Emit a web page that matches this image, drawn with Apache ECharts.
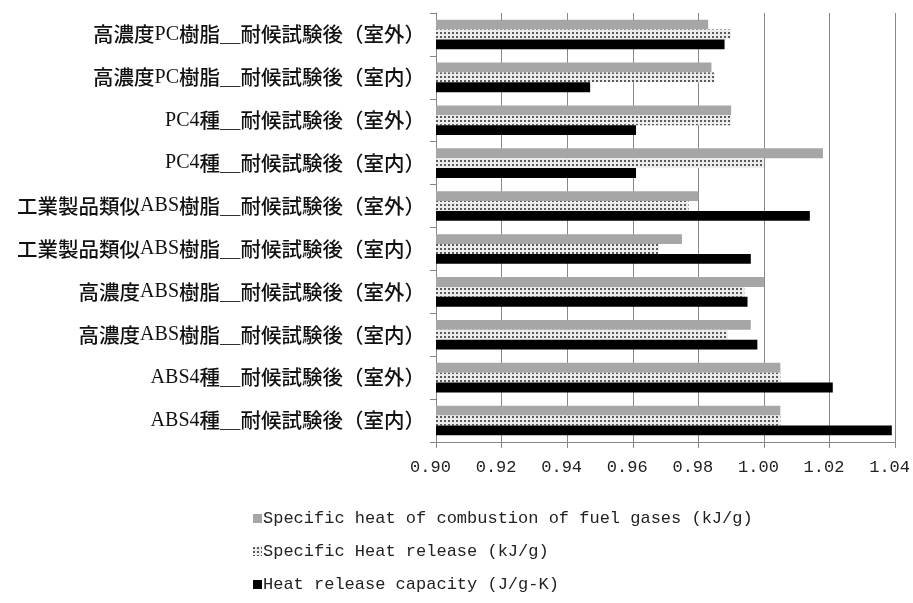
<!DOCTYPE html>
<html>
<head>
<meta charset="utf-8">
<script src="https://cdn.jsdelivr.net/npm/echarts@6/dist/echarts.min.js"></script>
<style>
html,body{margin:0;padding:0;background:#fff;}
#chart{width:913px;height:603px;}
</style>
</head>
<body>
<div id="chart"></div>
<script>
// Categories, top to bottom
const categories = [
  '高濃度PC樹脂＿耐候試験後（室外）',
  '高濃度PC樹脂＿耐候試験後（室内）',
  'PC4種＿耐候試験後（室外）',
  'PC4種＿耐候試験後（室内）',
  '工業製品類似ABS樹脂＿耐候試験後（室外）',
  '工業製品類似ABS樹脂＿耐候試験後（室内）',
  '高濃度ABS樹脂＿耐候試験後（室外）',
  '高濃度ABS樹脂＿耐候試験後（室内）',
  'ABS4種＿耐候試験後（室外）',
  'ABS4種＿耐候試験後（室内）'
];
const seriesNames = [
  'Specific heat of combustion of fuel gases (kJ/g)',
  'Specific Heat release (kJ/g)',
  'Heat release capacity (J/g-K)'
];
const combustionHeat = [0.983, 0.984, 0.990, 1.018, 0.980, 0.975, 1.000, 0.996, 1.005, 1.005];
const heatRelease    = [0.990, 0.985, 0.990, 1.000, 0.977, 0.968, 0.994, 0.989, 1.005, 1.005];
const hrCapacity     = [0.988, 0.947, 0.961, 0.961, 1.014, 0.996, 0.995, 0.998, 1.021, 1.039];
const xMin = 0.90, xMax = 1.04, xStep = 0.02;

function richLabel(s) {
  const parts = s.match(/[\x00-\x7F]+|[^\x00-\x7F]+/g) || [];
  return parts.map(p => /^[\x00-\x7F]+$/.test(p) ? '{a|' + p + '}' : '{j|' + p + '}').join('');
}

const chart = echarts.init(document.getElementById('chart'));
chart.setOption({
  animation: false,
  backgroundColor: '#fff',
  grid: { left: 436, right: 17, top: 13, bottom: 161, containLabel: false },
  xAxis: {
    type: 'value', min: xMin, max: xMax, interval: xStep,
    axisLine: { show: true, lineStyle: { color: '#868686', width: 1 } },
    axisTick: { show: true, length: 6, lineStyle: { color: '#868686' } },
    splitLine: { show: true, lineStyle: { color: '#888888', width: 1 } },
    axisLabel: {
      margin: 17, color: '#222', fontFamily: 'Liberation Mono', fontSize: 17,
      padding: [0, 11, 0, 0],
      formatter: v => v.toFixed(2)
    }
  },
  yAxis: {
    type: 'category', data: categories, inverse: true,
    axisLine: { show: true, lineStyle: { color: '#868686', width: 1 } },
    axisTick: { show: true, length: 6, lineStyle: { color: '#868686' } },
    splitLine: { show: false },
    axisLabel: {
      margin: 11, formatter: richLabel,
      rich: {
        a: { fontFamily: 'Liberation Serif', fontSize: 20, color: '#111' },
        j: { fontFamily: 'Noto Sans CJK JP', fontSize: 20.5, fontWeight: 500, color: '#111' }
      }
    }
  },
  legend: {
    orient: 'vertical', left: 248, top: 505,
    itemWidth: 9, itemHeight: 9, itemGap: 16,
    icon: 'rect',
    data: seriesNames,
    textStyle: { fontFamily: 'Liberation Mono', fontSize: 17, color: '#222', padding: [0, 0, 0, -4] }
  },
  series: [
    { name: seriesNames[0], type: 'bar', data: combustionHeat,
      barCategoryGap: '31%', barGap: '0%',
      itemStyle: { color: '#a6a6a6' } },
    { name: seriesNames[1], type: 'bar', data: heatRelease,
      barCategoryGap: '31%', barGap: '0%',
      itemStyle: { color: '#ececec',
        decal: { symbol: 'circle', symbolSize: 1, dashArrayX: [[2, 2]], dashArrayY: [2, 2], color: '#2a2a2a', rotation: 0 } } },
    { name: seriesNames[2], type: 'bar', data: hrCapacity,
      barCategoryGap: '31%', barGap: '0%',
      itemStyle: { color: '#000' } }
  ]
});
</script>
</body>
</html>
